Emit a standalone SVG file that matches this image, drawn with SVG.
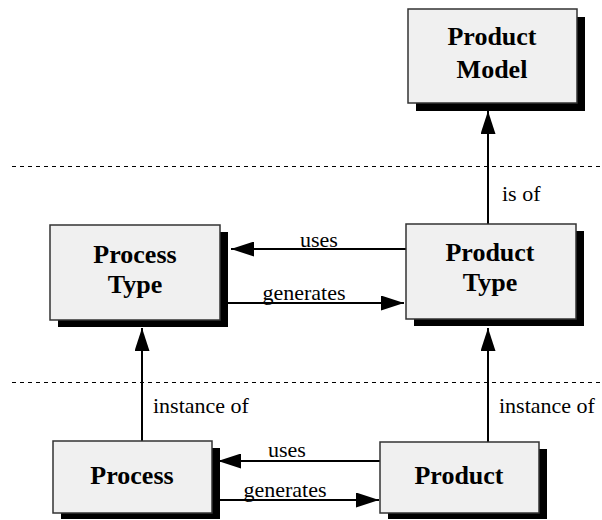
<svg xmlns="http://www.w3.org/2000/svg" width="602" height="520" viewBox="0 0 602 520">
<defs>
<marker id="ah" viewBox="0 0 23 15" refX="23" refY="7.5" markerWidth="23" markerHeight="15" markerUnits="userSpaceOnUse" orient="auto">
<path d="M0,0 L23,7.5 L0,15 Z" fill="#000"/>
</marker>
</defs>
<g id="separators" stroke="#000" stroke-width="1" stroke-dasharray="4 4" fill="none">
<line x1="12" y1="166.5" x2="602" y2="166.5"/>
<line x1="12" y1="382.5" x2="602" y2="382.5"/>
</g>
<g id="connectors">
<g stroke="#000" stroke-width="2" fill="none" marker-end="url(#ah)">
<line x1="488" y1="224" x2="488" y2="111"/>
<line x1="406" y1="249" x2="231" y2="249"/>
<line x1="228" y1="303" x2="404" y2="303"/>
<line x1="142" y1="441" x2="142" y2="328"/>
<line x1="488" y1="442" x2="488" y2="328"/>
<line x1="380" y1="461" x2="218" y2="461"/>
<line x1="220" y1="500" x2="379" y2="500"/>
</g>
<text x="502" y="201" font-family="Liberation Serif" font-size="22">is of</text>
<text x="319" y="247" font-family="Liberation Serif" font-size="22" text-anchor="middle">uses</text>
<text x="304" y="300" font-family="Liberation Serif" font-size="22" text-anchor="middle">generates</text>
<text x="153" y="413" font-family="Liberation Serif" font-size="22">instance of</text>
<text x="499" y="413" font-family="Liberation Serif" font-size="22">instance of</text>
<text x="287" y="457" font-family="Liberation Serif" font-size="22" text-anchor="middle">uses</text>
<text x="285" y="497" font-family="Liberation Serif" font-size="22" text-anchor="middle">generates</text>
</g>
<g id="product-model">
<rect x="416" y="17" width="169" height="94" fill="#000"/>
<rect x="408" y="9" width="169" height="94" fill="#f0f0f0" stroke="#333" stroke-width="1.5"/>
<text x="492" y="45" font-family="Liberation Serif" font-weight="bold" font-size="26" text-anchor="middle">Product</text>
<text x="492" y="78" font-family="Liberation Serif" font-weight="bold" font-size="26" text-anchor="middle">Model</text>
</g>
<g id="process-type">
<rect x="58" y="232" width="170" height="95" fill="#000"/>
<rect x="50" y="225" width="170" height="95" fill="#f0f0f0" stroke="#333" stroke-width="1.5"/>
<text x="135" y="263" font-family="Liberation Serif" font-weight="bold" font-size="26" text-anchor="middle">Process</text>
<text x="135" y="293" font-family="Liberation Serif" font-weight="bold" font-size="26" text-anchor="middle">Type</text>
</g>
<g id="product-type">
<rect x="414" y="231" width="170" height="95" fill="#000"/>
<rect x="406" y="224" width="170" height="95" fill="#f0f0f0" stroke="#333" stroke-width="1.5"/>
<text x="490" y="261" font-family="Liberation Serif" font-weight="bold" font-size="26" text-anchor="middle">Product</text>
<text x="490" y="291" font-family="Liberation Serif" font-weight="bold" font-size="26" text-anchor="middle">Type</text>
</g>
<g id="process">
<rect x="61" y="448" width="159" height="71" fill="#000"/>
<rect x="53" y="441" width="159" height="72" fill="#f0f0f0" stroke="#333" stroke-width="1.5"/>
<text x="132" y="484" font-family="Liberation Serif" font-weight="bold" font-size="26" text-anchor="middle">Process</text>
</g>
<g id="product">
<rect x="388" y="449" width="159" height="70" fill="#000"/>
<rect x="380" y="442" width="159" height="71" fill="#f0f0f0" stroke="#333" stroke-width="1.5"/>
<text x="459" y="484" font-family="Liberation Serif" font-weight="bold" font-size="26" text-anchor="middle">Product</text>
</g>
</svg>
